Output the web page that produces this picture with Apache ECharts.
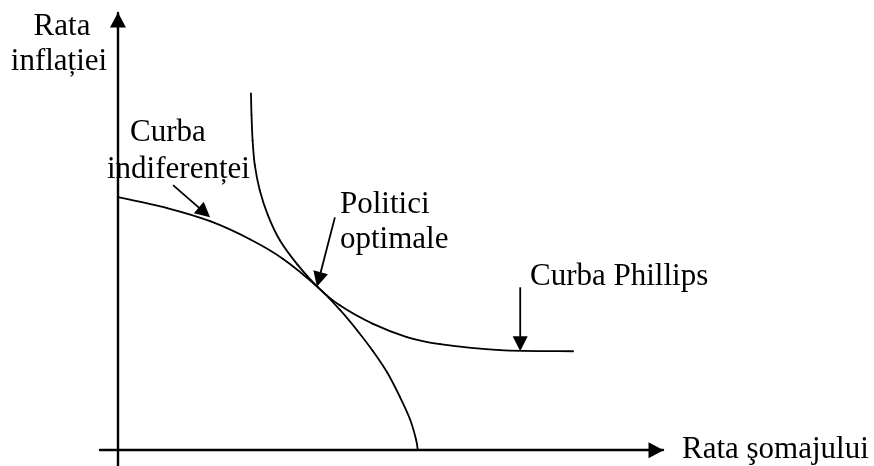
<!DOCTYPE html>
<html>
<head>
<meta charset="utf-8">
<script src="https://cdn.jsdelivr.net/npm/echarts@6/dist/echarts.min.js"></script>
<style>
html,body{margin:0;padding:0;background:#fff;}
#chart{width:874px;height:466px;}
</style>
</head>
<body>
<div id="chart"></div>
<script>
// Curve data (x = unemployment rate, y = inflation rate, arbitrary units)
const phillipsCurve = [
  [2.44, 6.53], [2.45, 6.13], [2.47, 5.67], [2.51, 5.22], [2.60, 4.76],
  [2.75, 4.30], [2.97, 3.84], [3.29, 3.40], [3.67, 2.98], [4.07, 2.65],
  [4.68, 2.31], [5.30, 2.07], [5.91, 1.94], [7.01, 1.83], [8.35, 1.81]
];
const indifferenceCurve = [
  [0, 4.63], [0.90, 4.43], [1.69, 4.19], [2.42, 3.86], [3.03, 3.50],
  [3.67, 2.98], [4.07, 2.57], [4.39, 2.19], [4.68, 1.81], [4.94, 1.42],
  [5.17, 0.98], [5.36, 0.56], [5.47, 0.19], [5.50, 0]
];
// Annotation arrows: [fromX, fromY, toX, toY]
const annotationArrows = [
  [1.01, 4.85, 1.69, 4.26],
  [3.98, 4.26, 3.65, 2.99],
  [7.38, 2.98, 7.38, 1.81]
];
const xAxisTitle = 'Rata şomajului';
const yAxisTitleLines = ['Rata', 'inflației'];
const curveLabels = ['Curba', 'indiferenței', 'Politici', 'optimale', 'Curba Phillips'];

const FONT = '31px "Liberation Serif"';
const chart = echarts.init(document.getElementById('chart'), null, {renderer: 'canvas'});

function txt(text, x, y, align) {
  return {
    type: 'text',
    style: {text: text, x: x, y: y, font: FONT, fill: '#000', textAlign: align, textVerticalAlign: 'middle'},
    z: 100
  };
}

// Smooth curve drawn segment by segment (Catmull-Rom) through the axis scales
function curveSeries(name, points) {
  return {
    type: 'custom', name: name, data: points,
    dimensions: ['x', 'y'], encode: {x: 0, y: 1}, z: 5,
    renderItem: function (params, api) {
      const i = params.dataIndex;
      if (i >= points.length - 1) return;
      const c = function (k) {
        k = Math.max(0, Math.min(points.length - 1, k));
        return api.coord(points[k]);
      };
      const p0 = c(i - 1), p1 = c(i), p2 = c(i + 1), p3 = c(i + 2);
      return {
        type: 'bezierCurve',
        shape: {
          x1: p1[0], y1: p1[1], x2: p2[0], y2: p2[1],
          cpx1: p1[0] + (p2[0] - p0[0]) / 6, cpy1: p1[1] + (p2[1] - p0[1]) / 6,
          cpx2: p2[0] - (p3[0] - p1[0]) / 6, cpy2: p2[1] - (p3[1] - p1[1]) / 6
        },
        style: {stroke: '#000', lineWidth: 1.8, fill: null, lineCap: 'round'}
      };
    }
  };
}

const option = {
  backgroundColor: '#fff',
  animation: false,
  grid: {left: 100, right: 211, top: 13, bottom: 0, containLabel: false},
  xAxis: {
    type: 'value', min: -0.33, max: 10,
    axisLine: {onZero: true, lineStyle: {color: '#000', width: 2.4},
      symbol: ['none', 'triangle'], symbolSize: [16, 15], symbolOffset: [0, -7]},
    axisTick: {show: false}, axisLabel: {show: false}, splitLine: {show: false},
    name: xAxisTitle, nameLocation: 'end', nameGap: 19,
    nameTextStyle: {fontSize: 31, fontFamily: 'Liberation Serif', color: '#000',
      align: 'left', verticalAlign: 'middle', padding: [0, 0, 15, 0]}
  },
  yAxis: {
    type: 'value', min: -0.29, max: 8,
    axisLine: {onZero: true, lineStyle: {color: '#000', width: 2.4},
      symbol: ['none', 'triangle'], symbolSize: [16, 15], symbolOffset: [0, -7]},
    axisTick: {show: false}, axisLabel: {show: false}, splitLine: {show: false}
  },
  graphic: [
    txt(yAxisTitleLines[0], 62, 27, 'center'),
    txt(yAxisTitleLines[1], 59, 62, 'center'),
    txt(curveLabels[0], 130, 133, 'left'),
    txt(curveLabels[1], 107, 170, 'left'),
    txt(curveLabels[2], 340, 205, 'left'),
    txt(curveLabels[3], 340, 240, 'left'),
    txt(curveLabels[4], 530, 277, 'left')
  ],
  series: [
    curveSeries('Curba Phillips', phillipsCurve),
    curveSeries('Curba indiferenței', indifferenceCurve),
    {
      type: 'custom', name: 'arrows', data: annotationArrows,
      dimensions: ['x1', 'y1', 'x2', 'y2'],
      encode: {x: [0, 2], y: [1, 3]},
      z: 6,
      renderItem: function (params, api) {
        const p1 = api.coord([api.value(0), api.value(1)]);
        const p2 = api.coord([api.value(2), api.value(3)]);
        const dx = p2[0] - p1[0], dy = p2[1] - p1[1];
        const len = Math.sqrt(dx * dx + dy * dy);
        const ux = dx / len, uy = dy / len;
        const headL = 15, headW = 7.5;
        const bx = p2[0] - ux * headL, by = p2[1] - uy * headL;
        return {
          type: 'group',
          children: [
            {type: 'line', shape: {x1: p1[0], y1: p1[1], x2: bx + ux * 2, y2: by + uy * 2},
              style: {stroke: '#000', lineWidth: 1.8}},
            {type: 'polygon', shape: {points: [
              [p2[0], p2[1]],
              [bx - uy * headW, by + ux * headW],
              [bx + uy * headW, by - ux * headW]
            ]}, style: {fill: '#000'}}
          ]
        };
      }
    }
  ]
};
chart.setOption(option);
</script>
</body>
</html>
